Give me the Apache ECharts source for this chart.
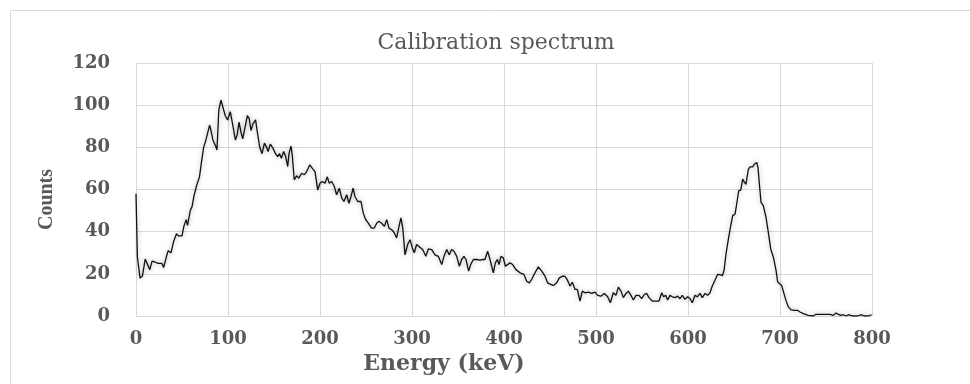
<!DOCTYPE html>
<html>
<head>
<meta charset="utf-8">
<script src="https://cdn.jsdelivr.net/npm/echarts@6/dist/echarts.min.js"></script>
<style>
  html, body { margin: 0; padding: 0; background: #fff; }
  #spectrum { width: 970px; height: 384px; }
</style>
</head>
<body>
<div id="spectrum"></div>
<script>
var myChart = echarts.init(document.getElementById('spectrum'));

// energy (keV) of each read point, and counts at that energy
var energy = [
	0, 1.5, 4.4, 7, 10, 12, 15, 17.5, 21, 24, 28, 30, 33, 35, 38, 41, 44, 46, 50, 52,
	54.5, 56, 59, 61, 63, 66, 69, 71, 73.5, 76, 80, 81.5, 83.6, 86.5, 88, 90, 92.4, 94.5, 97, 99.6,
	102.5, 105, 108, 110, 112, 114, 116, 119, 121, 123, 125, 127, 130, 131.6, 134.5, 137, 139.6, 142, 143.6, 146,
	149, 151.6, 154, 156, 158, 160.5, 162.7, 164.9, 166.3, 168.5, 170, 172, 174.6, 177, 180, 183, 185.5, 189, 191.7, 194.6,
	197.5, 200, 202.5, 205.4, 208, 210, 212.7, 215.6, 218, 221, 223.6, 226, 229, 231.5, 233.7, 236, 238, 241, 244.6, 247,
	249.7, 252.5, 256, 259, 261.6, 264, 267, 270, 272.5, 275, 278, 280.8, 283.3, 285.9, 288, 290, 292.4, 295.3, 297.8, 300.4,
	302.5, 305, 307.6, 311.6, 315, 317.8, 321.4, 325, 328.6, 332.3, 334.8, 337.7, 340.6, 343, 345.7, 348.6, 351.5, 354, 356.5, 358.7,
	361.6, 363.8, 366.7, 370.3, 374, 376.8, 379.3, 382.2, 384.8, 386.6, 388.4, 390.6, 392.8, 394.6, 396.7, 399.3, 401.5, 403.6, 406.5, 409.4,
	413, 417.4, 421.7, 424.6, 427.5, 430, 433.7, 437.3, 441, 444.6, 447.5, 450.7, 453.6, 457.2, 460.2, 463.8, 466.3, 469, 471.7, 474.3,
	477.2, 479.7, 482.6, 485.1, 488, 491.7, 495.3, 498.9, 501.8, 505.4, 509, 512.7, 515.6, 518.8, 521.7, 524.3, 527.2, 529.7, 532.6, 535.1,
	538, 540.6, 543.5, 546.7, 549.6, 552.5, 555, 557.6, 561.2, 564.8, 568.5, 571.4, 573.5, 575.7, 577.9, 580.4, 583, 585.9, 588.8, 591.3,
	593.8, 596.7, 599.6, 602.2, 604.7, 607.6, 610.1, 613, 615.6, 618.5, 621.4, 623.9, 626.4, 629.3, 632.2, 634.8, 637.5, 639.3, 641.3, 643.9,
	646.4, 648.6, 651.1, 652.9, 655.1, 657.3, 659.4, 661.2, 663, 665.6, 667.4, 670.3, 672.1, 674.7, 676.1, 677.6, 679.4, 681.9, 684.8, 687.3,
	689.9, 692.8, 695.7, 697.5, 699.3, 701.8, 704.4, 706.5, 709.1, 711.6, 715.2, 718.9, 721.8, 725.4, 730.8, 736.2, 739.1, 743.5, 748.9, 754.4,
	758, 760.9, 763.4, 766, 768.9, 771.8, 774.3, 776.8, 779.7, 784.1, 788.8, 791.3, 796, 799.6
];
var counts = [
	58, 28, 18, 19, 27, 27.5, 22, 26, 25.5, 25, 25, 23, 28, 31, 30, 35.5, 39, 38, 38, 42.5,
	45.7, 43, 50, 52, 57, 62, 66, 72.5, 80, 83.5, 90.5, 88, 83.5, 80.6, 78.7, 97.6, 102.4, 101.6, 95, 93,
	96.9, 91, 83.5, 86, 92, 87.4, 84, 90.5, 95, 93.7, 88, 91, 93, 88, 80, 77, 82, 80, 78, 81.5,
	79.5, 77, 75.6, 77, 74.8, 78, 75.6, 70.9, 77, 80.6, 75.6, 64.6, 66.5, 65.4, 67.7, 67, 68.5, 71.7, 70, 68.5,
	59.8, 63, 63.8, 63, 66, 63, 63.8, 61.4, 57.5, 60.6, 56, 54.3, 57.5, 53.5, 56.7, 60.6, 56.7, 54.3, 54.3, 48.8,
	45.7, 44, 41.7, 41.7, 44, 44.9, 44, 42.5, 45.7, 41.7, 40.9, 39.4, 37, 42.5, 46.5, 41.7, 29, 33.9, 36.2, 32.3,
	30, 33.9, 33, 31.5, 28.3, 31.8, 31.5, 29, 28.3, 24.4, 28.3, 31.5, 29, 31.5, 30.7, 28.3, 23.6, 26.8, 28.3, 26.8,
	21.3, 24.4, 26.8, 26.8, 26.5, 26.8, 26.8, 30.7, 26.8, 23.6, 20.5, 25.2, 26.8, 24.4, 28.3, 27.6, 23.6, 24.4, 25.2, 24.4,
	22, 20.5, 19.7, 16.5, 15.7, 17.3, 20.5, 23.3, 21.3, 18.9, 15.7, 15, 14.5, 15.7, 18.1, 18.9, 18.8, 17, 14.2, 16,
	12.6, 12.6, 7.1, 11.8, 11, 11.3, 10.7, 11.3, 9.8, 9.4, 10.7, 9.1, 6.3, 11, 9.8, 13.7, 11.8, 8.7, 10.7, 11.8,
	9.8, 7.6, 9.8, 9.8, 8.2, 10.2, 10.7, 8.7, 7.1, 7.1, 7.1, 11, 9.1, 9.8, 7.6, 9.8, 9.1, 8.7, 9.4, 8.2,
	9.8, 7.9, 9.1, 8.2, 6.3, 9.8, 9.1, 10.7, 8.7, 10.7, 9.8, 11, 14.2, 17, 19.7, 19.6, 19.2, 22, 29.4, 36.5,
	42.8, 47.6, 48.3, 53, 59.4, 59.7, 64.9, 63.5, 62.5, 69.6, 70.7, 70.7, 72, 72.8, 70.4, 62.5, 53.9, 52.3, 46.8, 39.7,
	31.8, 27.9, 21.6, 16.1, 15.7, 14.5, 10.5, 7.4, 4.3, 3, 2.7, 2.7, 1.9, 1.1, 0.3, 0, 0.8, 0.8, 0.8, 0.8,
	0.3, 1.4, 0.8, 0.3, 0.6, 0, 0.6, 0.3, 0, 0, 0.6, 0, 0, 0.6
];

var xTicks = { min: 0, max: 800, step: 100 };
var yTicks = { min: 0, max: 120, step: 20 };

var spectrum = energy.map(function (e, i) {
	return [e, counts[i]];
});

var labelGray = '#595959';
var gridGray = '#d9d9d9';

var option = {
	backgroundColor: '#ffffff',
	animation: false,
	title: {
		text: 'Calibration spectrum',
		left: 496,
		top: 32,
		padding: 0,
		textAlign: 'center',
		textStyle: {
			fontFamily: 'DejaVu Serif',
			fontWeight: 'normal',
			fontSize: 22,
			color: labelGray
		}
	},
	graphic: [{
		// outer chart frame (cut off on right and bottom in the reference)
		type: 'rect',
		silent: true,
		shape: { x: 10.5, y: 10.5, width: 1000, height: 400 },
		style: { fill: 'none', stroke: gridGray, lineWidth: 1 }
	}],
	grid: {
		left: 136,
		right: 98,
		top: 63,
		bottom: 68
	},
	xAxis: {
		type: 'value',
		min: xTicks.min,
		max: xTicks.max,
		interval: xTicks.step,
		name: 'Energy (keV)',
		nameLocation: 'middle',
		nameGap: 35,
		nameTextStyle: {
			fontFamily: 'DejaVu Serif',
			fontWeight: 'bold',
			fontSize: 22,
			color: labelGray,
			padding: [0, 120, 0, 0]
		},
		axisLine: { show: false },
		axisTick: { show: false },
		axisLabel: {
			margin: 14,
			fontFamily: 'DejaVu Serif',
			fontWeight: 'bold',
			fontSize: 18,
			color: labelGray
		},
		splitLine: {
			show: true,
			lineStyle: { color: gridGray, width: 1 }
		}
	},
	yAxis: {
		type: 'value',
		min: yTicks.min,
		max: yTicks.max,
		interval: yTicks.step,
		name: 'Counts',
		nameLocation: 'middle',
		nameGap: 79,
		nameTextStyle: {
			fontFamily: 'Liberation Serif',
			fontWeight: 'bold',
			fontSize: 20,
			color: labelGray,
			padding: [0, 20, 0, 0]
		},
		axisLine: { show: false },
		axisTick: { show: false },
		axisLabel: {
			margin: 26,
			fontFamily: 'DejaVu Serif',
			fontWeight: 'bold',
			fontSize: 18,
			color: labelGray
		},
		splitLine: {
			show: true,
			lineStyle: { color: gridGray, width: 1 }
		}
	},
	series: [{
		name: 'Counts',
		type: 'line',
		symbol: 'none',
		smooth: false,
		lineStyle: {
			color: '#111111',
			width: 1.3,
			shadowColor: 'rgba(0, 0, 0, 0.35)',
			shadowBlur: 5
		},
		data: spectrum
	}]
};

myChart.setOption(option);
</script>
</body>
</html>
